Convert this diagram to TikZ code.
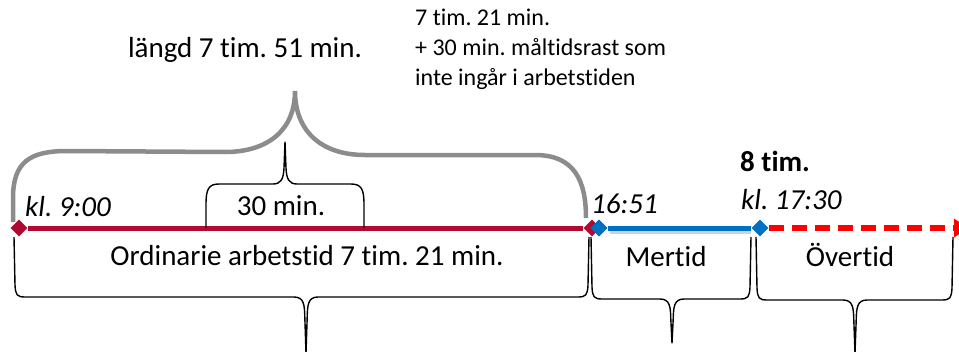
\documentclass[tikz,border=0pt]{standalone}
\usepackage{fontspec}
\setmainfont{Carlito}[Ligatures=NoCommon]
\usetikzlibrary{arrows.meta,shapes.geometric}

\definecolor{ordred}{RGB}{176,10,50}
\definecolor{merblue}{RGB}{0,112,192}
\definecolor{overred}{RGB}{255,0,0}
\definecolor{bracegray}{RGB}{140,140,140}

% brace that opens upwards: left x, right x, tip x, top y, bottom y, tip y
\newcommand\lowbrace[6]{%
  \draw[blackbrace] (#1,#4) -- ({#1+1},{#5-12})
    .. controls ({#1+1.5},{#5-2}) and ({#1+3},#5) .. ({#1+11},#5)
    -- ({#3-12},#5)
    .. controls ({#3-2},#5) and ({#3-1.5},{#5+8}) .. ({#3-1.2},{#5+20})
    -- (#3,#6)
    -- ({#3+1.2},{#5+20})
    .. controls ({#3+1.5},{#5+8}) and ({#3+2},#5) .. ({#3+12},#5)
    -- ({#2-11},#5)
    .. controls ({#2-3},#5) and ({#2-1.5},{#5-2}) .. ({#2-1},{#5-12})
    -- (#2,#4);}

\begin{document}
\frenchspacing
\begin{tikzpicture}[x=1pt,y=-1pt,
  lbl/.style={font=\fontsize{29}{35}\selectfont, inner sep=0},
  note/.style={font=\fontsize{24}{30}\selectfont, inner sep=0, anchor=base west},
  timemark/.style={diamond, minimum size=17, inner sep=0, draw=none},
  graybrace/.style={draw=bracegray, line width=4.5},
  blackbrace/.style={draw=black, line width=1.4, line join=round}]
\useasboundingbox (0,0) rectangle (959,351);

% time marks on the axis
\node[timemark, fill=ordred] (start) at (19,228) {};
\node[timemark, fill=ordred] (ordend) at (592,228) {};
\node[timemark, fill=merblue] (merstart) at (599,228) {};
\node[timemark, fill=merblue] (merend) at (760,228) {};
\coordinate (axisend) at (968,228);

% axis segments
\draw[ordred, line width=5] (start) -- (ordend);
\draw[black, opacity=0.18, line width=5] ([xshift=2pt,yshift=-3pt]merstart.east) -- ([xshift=0pt,yshift=-3pt]merend.west);
\draw[merblue, line width=5] (merstart) -- (merend);
\node[timemark, fill=merblue] at (merstart) {};
\draw[overred, line width=5.5, dash pattern=on 15 off 8, -{Triangle[length=14,width=18]}] (merend) -- (axisend);

% gray brace over the whole working day including the break
\draw[graybrace] (13,222) -- (13,198)
  .. controls (13,162) and (30,151) .. (67,151)
  -- (225,152)
  .. controls (268,152) and (295,130) .. (295,91)
  .. controls (295,130) and (320,155) .. (365,155)
  -- (535,155)
  .. controls (574,155) and (586,180) .. (586,218);

% brace over the meal break
\draw[blackbrace] (206,228) -- (206,205)
  .. controls (206,190) and (208,184) .. (219,184)
  -- (273,184)
  .. controls (281,184) and (283.5,179) .. (284,168)
  -- (285,142)
  -- (286,168)
  .. controls (286.5,179) and (289,184) .. (297,184)
  -- (351,184)
  .. controls (362,184) and (364,190) .. (364,205)
  -- (364,228);

% braces under the axis
\lowbrace{14}{589}{306}{237}{297}{353}
\lowbrace{591}{751}{672}{237}{299}{343}
\lowbrace{756}{953}{855}{237}{300}{353}

% labels
\node[lbl, anchor=base] (total) at (245,57) {längd 7 tim. 51 min.};
\node[note] (note1) at (415,25) {7 tim. 21 min.};
\node[note] (note2) at (415,55) {+ 30 min. måltidsrast som};
\node[note] (note3) at (415,85) {inte ingår i arbetstiden};
\node[lbl, anchor=base west, font=\fontsize{29}{35}\selectfont\itshape] (t900) at (25,216) {kl. 9:00};
\node[lbl, anchor=base] (rast) at (281,215) {30 min.};
\node[lbl, anchor=base west, font=\fontsize{29}{35}\selectfont\itshape] (t1651) at (591,213) {16:51};
\node[lbl, anchor=base west, font=\fontsize{29}{35}\selectfont\bfseries] (eight) at (740,171) {8 tim.};
\node[lbl, anchor=base west, font=\fontsize{29}{35}\selectfont\itshape] (t1730) at (741,209) {kl. 17:30};
\node[lbl, anchor=base] (ord) at (307,265) {Ordinarie arbetstid 7 tim. 21 min.};
\node[lbl, anchor=base] (mer) at (666,266) {Mertid};
\node[lbl, anchor=base] (over) at (850,266) {Övertid};
\end{tikzpicture}
\end{document}
